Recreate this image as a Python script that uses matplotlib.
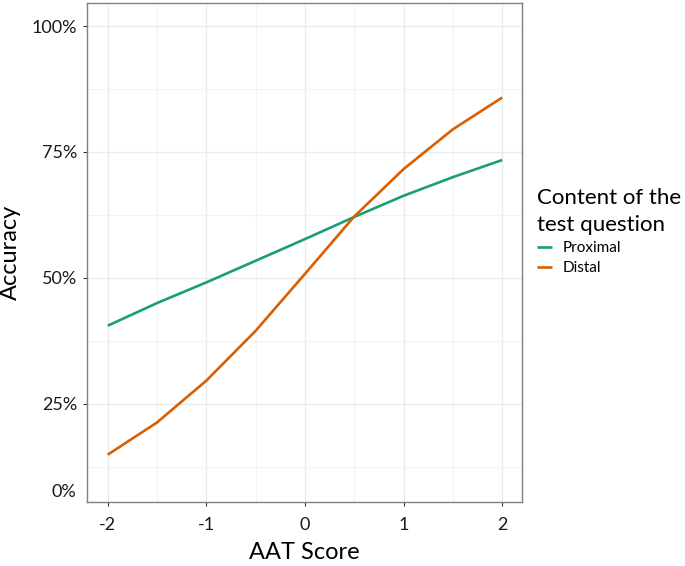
import matplotlib
matplotlib.use("Agg")
import matplotlib.pyplot as plt
from matplotlib.ticker import FixedLocator, FuncFormatter

plt.rcParams['font.family'] = ['Lato', 'DejaVu Sans']

# data
aat = [-2, -1.5, -1, -0.5, 0, 0.5, 1, 1.5, 2]
proximal = [0.405, 0.450, 0.491, 0.534, 0.577, 0.621, 0.663, 0.700, 0.734]
distal = [0.149, 0.213, 0.296, 0.395, 0.508, 0.622, 0.716, 0.795, 0.858]
x_ticks = [-2, -1, 0, 1, 2]
y_ticks = [0.25, 0.5, 0.75, 1.0]

fig = plt.figure(figsize=(6.85, 5.66), dpi=100)
ax = fig.add_axes([0.127, 0.113, 0.635, 0.882])

ax.plot(aat, proximal, color="#1b9e77", lw=1.9, label="Proximal", solid_capstyle="butt")
ax.plot(aat, distal, color="#d95f02", lw=1.9, label="Distal", solid_capstyle="butt")

ax.set_xlim(-2.21, 2.2)
ax.set_ylim(0.055, 1.046)

ax.xaxis.set_major_locator(FixedLocator(x_ticks))
ax.xaxis.set_minor_locator(FixedLocator([-1.5, -0.5, 0.5, 1.5]))
ax.yaxis.set_major_locator(FixedLocator(y_ticks))
ax.yaxis.set_minor_locator(FixedLocator([0.125, 0.375, 0.625, 0.875]))
ax.xaxis.set_major_formatter(FuncFormatter(lambda v, p: "%d" % v))
ax.yaxis.set_major_formatter(FuncFormatter(lambda v, p: "%d%%" % round(v * 100)))

ax.grid(True, which="major", color="#ebebeb", lw=1.0)
ax.grid(True, which="minor", color="#f3f3f3", lw=0.8)
ax.set_axisbelow(True)
for s in ax.spines.values():
    s.set_color("#7f7f7f")
    s.set_linewidth(1.0)

ax.tick_params(which="major", length=3, color="#333333", labelsize=13, labelcolor="#1a1a1a", pad=4)
ax.tick_params(which="minor", length=0)
ax.tick_params(axis="x", pad=8)

# the 0% label sits just above the bottom of the panel
ax.text(-0.024, 0.075, "0%", transform=ax.get_yaxis_transform(), ha="right", va="center",
        fontsize=13, color="#1a1a1a")

ax.set_xlabel("AAT Score", fontsize=17, labelpad=6)
ax.set_ylabel("Accuracy", fontsize=17, labelpad=8)

leg = ax.legend(title="Content of the\ntest question", loc="upper left",
                bbox_to_anchor=(0.784, 0.668), bbox_transform=fig.transFigure,
                frameon=False, fontsize=11, title_fontsize=16,
                handlelength=1.0, handletextpad=0.7, labelspacing=0.4,
                borderaxespad=0, borderpad=0)
leg._legend_box.align = "left"
leg.get_title().set_linespacing(1.45)

fig.savefig("out.png", dpi=100)
